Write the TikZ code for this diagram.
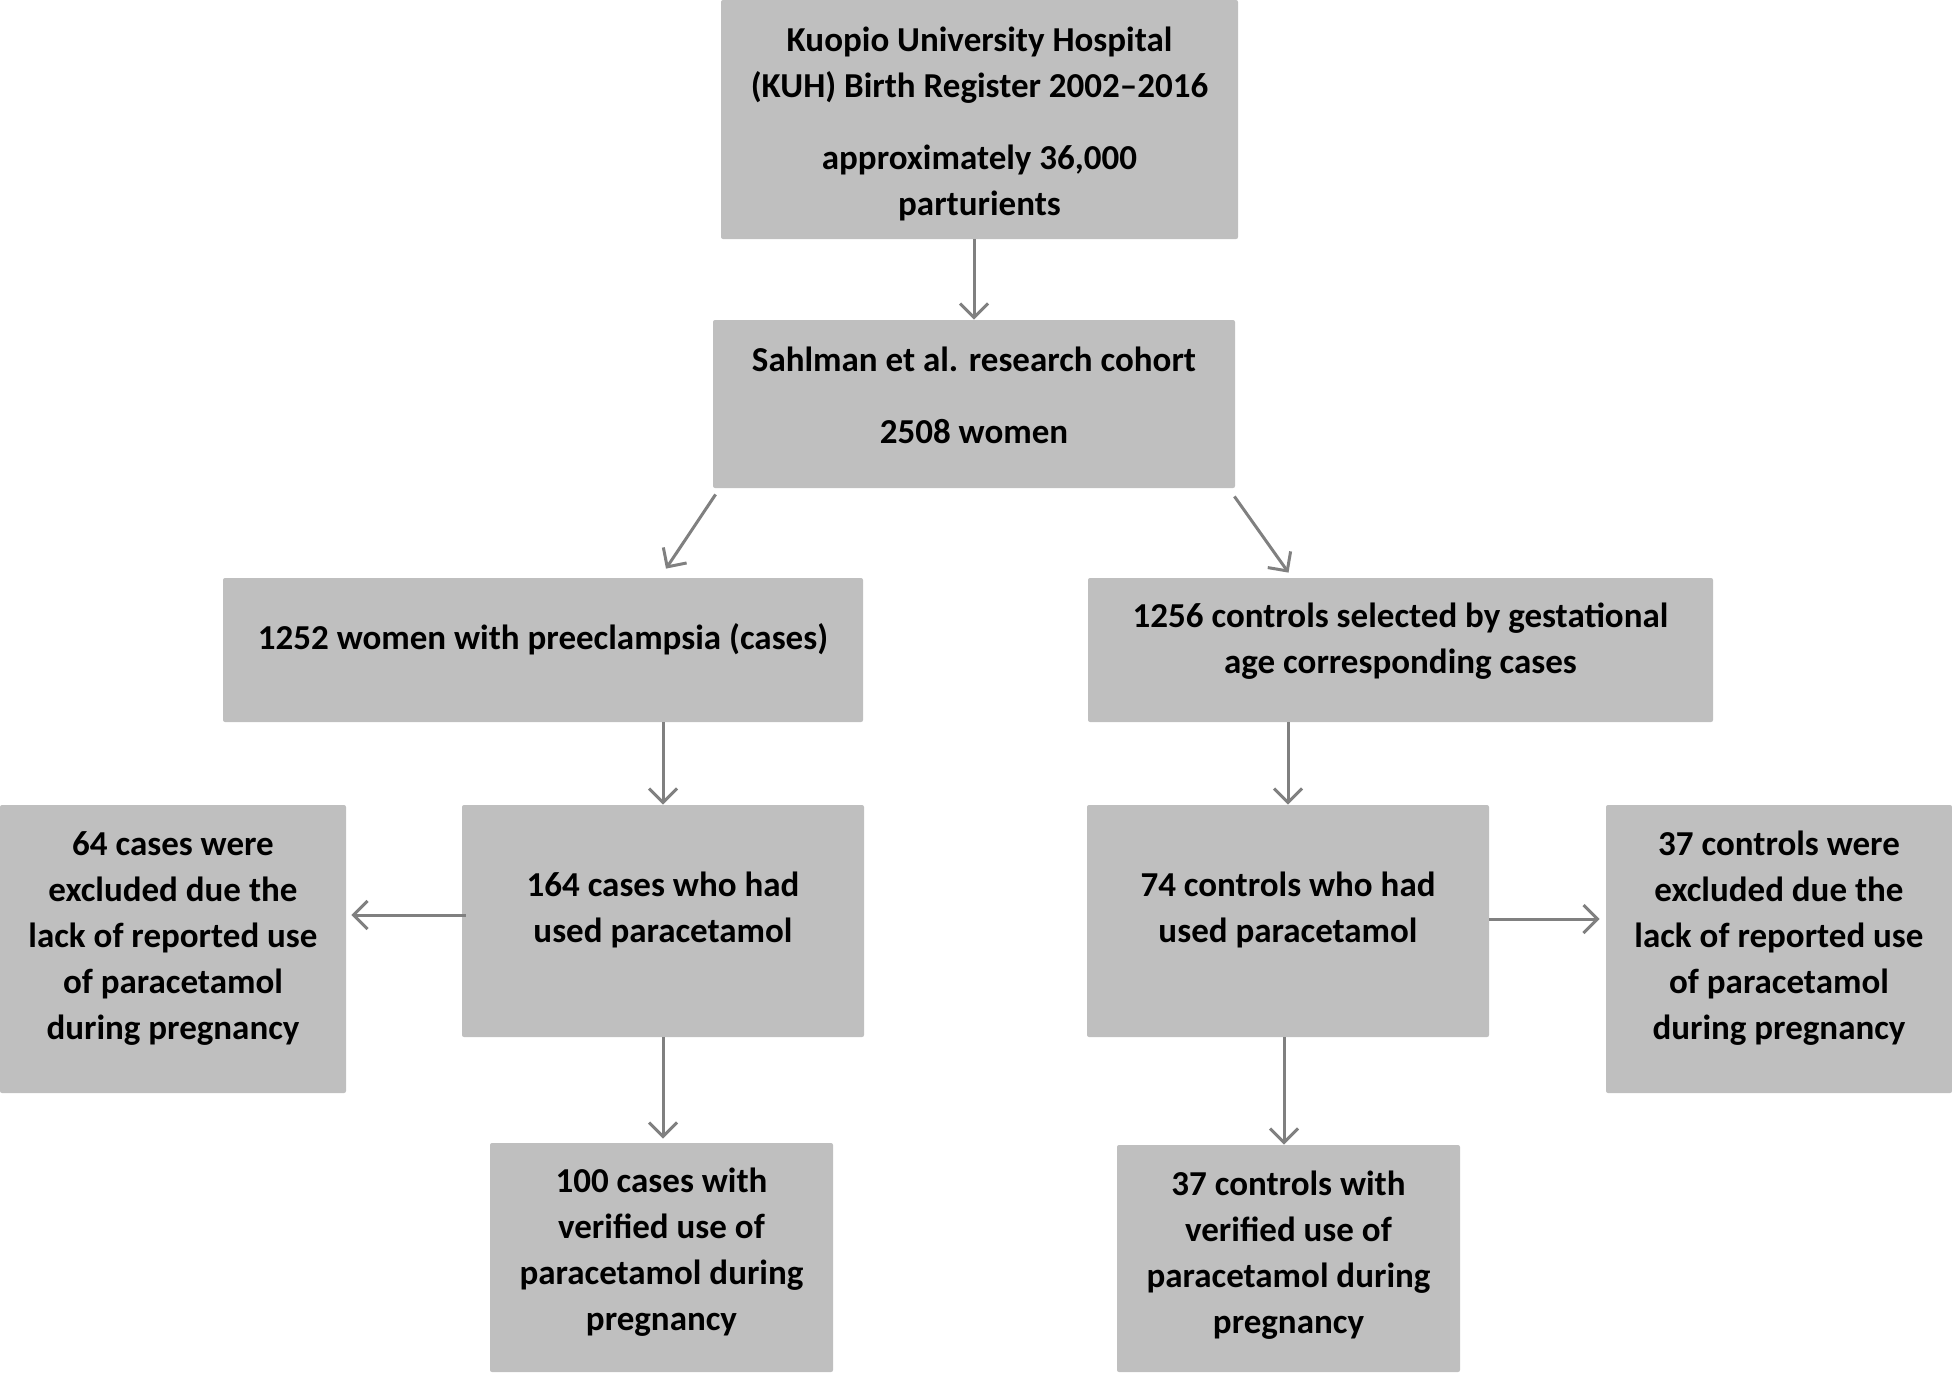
\documentclass[tikz,border=0pt]{standalone}
\usepackage{fontspec}
\setmainfont{Carlito}
\usetikzlibrary{arrows.meta,positioning,calc}
\definecolor{boxgray}{HTML}{BFBFBF}
\definecolor{arrgray}{HTML}{808080}
\tikzset{
  box/.style={fill=boxgray, rounded corners=1pt, inner sep=0pt},
  txt/.style={align=center, inner sep=0pt, font=\fontsize{17.5}{23}\selectfont\bfseries},
  arr/.style={draw=arrgray, line width=1.5pt, -{Straight Barb[length=7pt,width=14pt]}}
}
\begin{document}
\begin{tikzpicture}[x=0.5pt,y=-0.5pt]
  \useasboundingbox (0,0) rectangle (1952,1372);
  % boxes
  \node[box, minimum width=258.5pt, minimum height=119.5pt] (top) at (979.5,119.5) {};
  \node[box, minimum width=261pt, minimum height=84pt] (sahl) at (974,404) {};
  \node[box, minimum width=320pt, minimum height=72pt] (cases) at (543,650) {};
  \node[box, minimum width=312.5pt, minimum height=72pt] (ctrl) at (1400.5,650) {};
  \node[box, minimum width=173pt, minimum height=144pt] (excl1) at (173,949) {};
  \node[box, minimum width=201pt, minimum height=116pt] (used1) at (663,921) {};
  \node[box, minimum width=201pt, minimum height=116pt] (used2) at (1288,921) {};
  \node[box, minimum width=173pt, minimum height=144pt] (excl2) at (1779,949) {};
  \node[box, minimum width=171.5pt, minimum height=114.5pt] (ver1) at (661.5,1257.5) {};
  \node[box, minimum width=171.5pt, minimum height=113.5pt] (ver2) at (1288.5,1258.5) {};
  % texts
  \node[txt] (top-t) at ([yshift=-2pt]top) {Kuopio University Hospital\\(KUH) Birth Register 2002--2016\\[13pt]approximately 36,000\\parturients};
  \node[txt] (sahl-t) at ([yshift=4.5pt]sahl) {Sahlman et al. research cohort\\[13pt]2508 women};
  \node[txt] (cases-t) at ([yshift=5.5pt]cases) {1252 women with preeclampsia (cases)};
  \node[txt] (ctrl-t) at ([yshift=4.5pt]ctrl) {1256 controls selected by gestational\\age corresponding cases};
  \node[txt] (excl1-t) at ([yshift=5.5pt]excl1) {64 cases were\\excluded due the\\lack of reported use\\of paracetamol\\during pregnancy};
  \node[txt] (used1-t) at ([yshift=5.5pt]used1) {164 cases who had\\used paracetamol};
  \node[txt] (used2-t) at ([yshift=5.5pt]used2) {74 controls who had\\used paracetamol};
  \node[txt] (excl2-t) at ([yshift=5.5pt]excl2) {37 controls were\\excluded due the\\lack of reported use\\of paracetamol\\during pregnancy};
  \node[txt] (ver1-t) at ([yshift=2.5pt]ver1) {100 cases with\\verified use of\\paracetamol during\\pregnancy};
  \node[txt] (ver2-t) at ([yshift=1.5pt]ver2) {37 controls with\\verified use of\\paracetamol during\\pregnancy};
  % arrows
  \draw[arr] (sahl.north |- top.south) -- (sahl.north);
  \draw[arr] ([xshift=1.5pt,yshift=-3pt]sahl.south west) -- ([xshift=61.5pt,yshift=4.5pt]cases.north);
  \draw[arr] ([xshift=-0.5pt,yshift=-4pt]sahl.south east) -- ([xshift=-56pt,yshift=2.5pt]ctrl.north);
  \draw[arr] (used1.north |- cases.south) -- (used1.north);
  \draw[arr] (used2.north |- ctrl.south) -- (used2.north);
  \draw[arr, shorten >=2.5pt] ($(used1.west)+(2pt,3pt)$) -- ($(used1.west -| excl1.east)+(0,3pt)$);
  \draw[arr, shorten >=3pt] ($(used2.east)+(0,1pt)$) -- ($(used2.east -| excl2.west)+(0,1pt)$);
  \draw[arr, shorten >=2pt] (used1.south) -- (used1.south |- ver1.north);
  \draw[arr] ($(used2.south)+(-2pt,0)$) -- ($(used2.south |- ver2.north)+(-2pt,0)$);
\end{tikzpicture}
\end{document}
